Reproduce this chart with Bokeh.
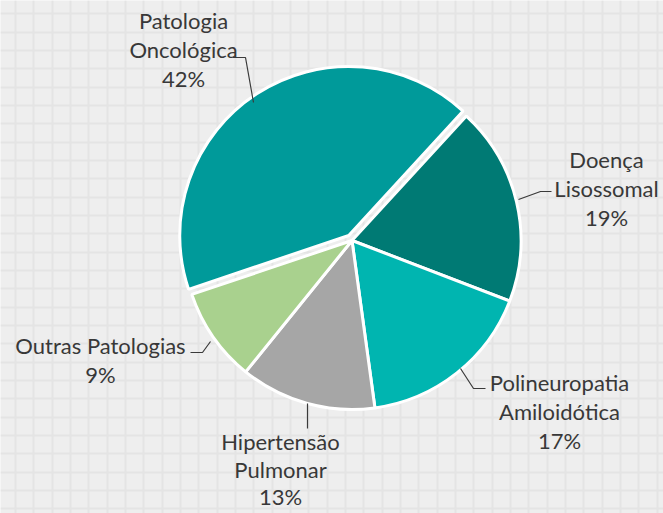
import math
from bokeh.plotting import figure
from bokeh.models import Range1d, FixedTicker, ColumnDataSource
from bokeh.core.properties import value
from bokeh.embed import file_html
from bokeh.resources import INLINE

# ---- data ----
categories = ["Patologia Oncológica", "Doença Lisossomal", "Polineuropatia Amiloidótica",
              "Hipertensão Pulmonar", "Outras Patologias"]
label_lines = [["Patologia", "Oncológica"], ["Doença", "Lisossomal"],
               ["Polineuropatia", "Amiloidótica"], ["Hipertensão", "Pulmonar"],
               ["Outras Patologias"]]
values = [42, 19, 17, 13, 9]
colors = ["#009a9a", "#007a74", "#00b5b0", "#a6a6a6", "#a9d18e"]
explode = [6, 0, 0, 0, 0]

# ---- layout (pixel coordinates of the picture; y measured downward) ----
W, H = 663, 513
cx, cy, R = 351.5, 240.0, 169.0
first_angle = 251.4  # clockwise from 12 o'clock
label_pos = [(183, 20), (606, 159), (559, 382), (280, 441), (100, 345)]
line_h = [28.8, 28.8, 28.8, 27.5, 28.8]
leaders = [
    [(232, 57), (245, 57), (253, 102)],
    [(518, 199), (540, 191), (551, 191)],
    [(460, 368), (473, 388), (485, 388)],
    [(307, 403), (307, 428)],
    [(190, 352), (202, 352), (210, 341)],
]
font = "Lato"
fsize = "22px"
text_color = "#383838"

p = figure(width=W, height=H, output_backend="svg", toolbar_location=None,
           x_range=Range1d(0, W), y_range=Range1d(-H, 0), min_border=0,
           background_fill_color="#eeeeee", border_fill_color="#eeeeee")
p.outline_line_color = None
p.xaxis.visible = False
p.yaxis.visible = False
p.xgrid.ticker = FixedTicker(ticks=[15 + 18.33 * k for k in range(37)])
p.ygrid.ticker = FixedTicker(ticks=[-(13.3 + 18.33 * k) for k in range(29)])
for g in (p.xgrid, p.ygrid):
    g.grid_line_color = "#e4e4e4"
    g.grid_line_width = 2

total = float(sum(values))
xs, ys, sa, ea = [], [], [], []
theta = first_angle
for v, ex in zip(values, explode):
    span = v / total * 360.0
    mid = theta + span / 2.0
    dx = ex * math.sin(math.radians(mid))
    dy = ex * math.cos(math.radians(mid))
    xs.append(cx + dx)
    ys.append(-cy + dy)
    sa.append(90.0 - (theta + span))
    ea.append(90.0 - theta)
    theta += span

src = ColumnDataSource(dict(x=xs, y=ys, start=sa, end=ea, color=colors, name=categories))
p.wedge(x="x", y="y", radius=R, start_angle="start", end_angle="end",
        start_angle_units="deg", end_angle_units="deg", direction="anticlock",
        fill_color="color", line_color="white", line_width=3, source=src)

for pts in leaders:
    p.line([q[0] for q in pts], [-q[1] for q in pts], line_color="#3a3a3a", line_width=1.2)

tx, ty, tt = [], [], []
for lines, v, (lx, ly), lh in zip(label_lines, values, label_pos, line_h):
    for i, s in enumerate(lines + [f"{v}%"]):
        tx.append(lx)
        ty.append(-(ly + i * lh))
        tt.append(s)
p.text(x=tx, y=ty, text=tt, text_align="center", text_baseline="middle",
       text_font=value(font), text_font_size=fsize, text_color=text_color)

html = file_html(p, INLINE)
html = html.replace("<body>", '<body style="margin:0;background:#eeeeee">', 1)
open("out.html", "w").write(html)
